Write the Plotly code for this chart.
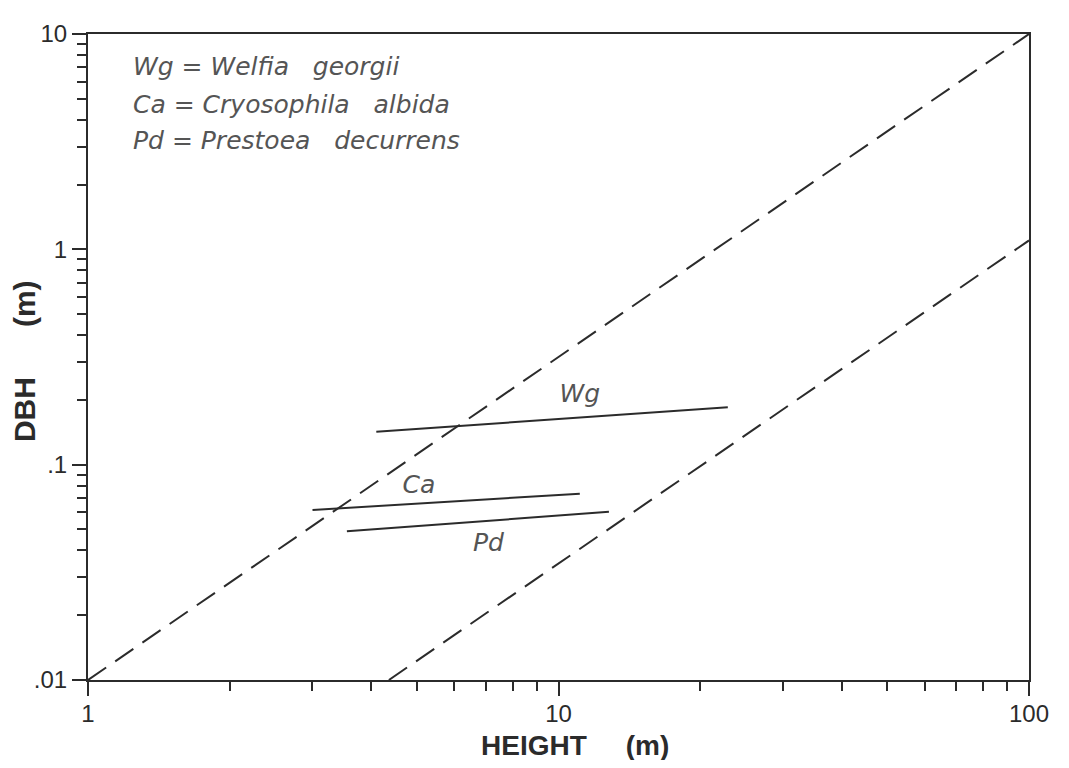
import plotly.graph_objects as go

# Reference (allometric) dashed lines: endpoints (HEIGHT m, DBH m)
upper_h = [1, 100]
upper_dbh = [0.01, 10]
lower_h = [4.36, 100]
lower_dbh = [0.01, 1.1]

# Species lines
species = ["Wg", "Ca", "Pd"]
wg_h = [4.1, 22.9]
wg_dbh = [0.142, 0.185]
ca_h = [3.0, 11.1]
ca_dbh = [0.0616, 0.0733]
pd_h = [3.55, 12.8]
pd_dbh = [0.0491, 0.0604]

label_h = [11.1, 5.05, 7.1]
label_dbh = [0.208, 0.0792, 0.0427]

legend_lines = [
    ("Wg", "Welfia", "georgii"),
    ("Ca", "Cryosophila", "albida"),
    ("Pd", "Prestoea", "decurrens"),
]

x_tickvals = [1, 10, 100]
x_ticktext = ["1", "10", "100"]
x_minor = [2, 3, 4, 5, 6, 7, 8, 9, 20, 30, 40, 50, 60, 70, 80, 90]
y_tickvals = [0.01, 0.1, 1, 10]
y_ticktext = [".01", ".1", "1", "10"]
y_minor = [0.02, 0.03, 0.04, 0.05, 0.06, 0.07, 0.08, 0.09,
           0.2, 0.3, 0.4, 0.5, 0.6, 0.7, 0.8, 0.9,
           2, 3, 4, 5, 6, 7, 8, 9]

INK = "#2b2b2b"
TXT = "#555555"
FONT = "Liberation Sans"
TFONT = "DejaVu Sans"
NB = "\u00a0"

fig = go.Figure()
for hx, dy in [(upper_h, upper_dbh), (lower_h, lower_dbh)]:
    fig.add_trace(go.Scatter(x=hx, y=dy, mode="lines",
                             line=dict(color=INK, width=2, dash="22px,11px"),
                             hoverinfo="skip", showlegend=False))
for hx, dy in [(wg_h, wg_dbh), (ca_h, ca_dbh), (pd_h, pd_dbh)]:
    fig.add_trace(go.Scatter(x=hx, y=dy, mode="lines",
                             line=dict(color=INK, width=2),
                             showlegend=False))

fig.add_trace(go.Scatter(x=label_h, y=label_dbh, mode="text",
                         text=[f"<i>{s}</i>" for s in species],
                         textfont=dict(family=TFONT, size=25, color=TXT),
                         textposition="middle center", showlegend=False,
                         hoverinfo="skip"))

legend_y = [0.949, 0.891, 0.835]
for (ab, gen, sp), yy in zip(legend_lines, legend_y):
    fig.add_annotation(xref="paper", yref="paper", x=0.046, y=yy,
                       xanchor="left", yanchor="middle", showarrow=False,
                       text=f"<i>{ab} = {gen}{NB*3}{sp}</i>",
                       font=dict(family=TFONT, size=25, color=TXT))

fig.add_annotation(xref="paper", yref="paper", x=0.518, y=-0.101,
                   xanchor="center", yanchor="middle", showarrow=False,
                   text=f"<b>HEIGHT{NB*5}(m)</b>",
                   font=dict(family=FONT, size=28, color=INK))
fig.add_annotation(xref="paper", yref="paper", x=-0.0667, y=0.494,
                   xanchor="center", yanchor="middle", showarrow=False,
                   textangle=-90,
                   text=f"<b>DBH{NB*6}(m)</b>",
                   font=dict(family=FONT, size=30, color=INK))

axis_common = dict(type="log", showgrid=False, zeroline=False,
                   showline=True, linecolor=INK, linewidth=2, mirror=True,
                   ticks="outside", ticklen=14, tickwidth=2, tickcolor=INK,
                   tickfont=dict(family=FONT, size=24, color=INK))

fig.update_xaxes(range=[0, 2], tickmode="array", tickvals=x_tickvals,
                 ticktext=x_ticktext, ticklabelstandoff=-3,
                 minor=dict(tickmode="array", tickvals=x_minor,
                            ticks="outside", ticklen=9, tickwidth=2,
                            tickcolor=INK, showgrid=False),
                 **axis_common)
fig.update_yaxes(range=[-2, 1], tickmode="array", tickvals=y_tickvals,
                 ticktext=y_ticktext, ticklabelstandoff=0,
                 minor=dict(tickmode="array", tickvals=y_minor,
                            ticks="outside", ticklen=9, tickwidth=2,
                            tickcolor=INK, showgrid=False),
                 **axis_common)

fig.update_layout(width=1053, height=752,
                  margin=dict(l=80, r=29, t=17, b=80),
                  plot_bgcolor="white", paper_bgcolor="white",
                  showlegend=False)

fig.write_html("out.html")
